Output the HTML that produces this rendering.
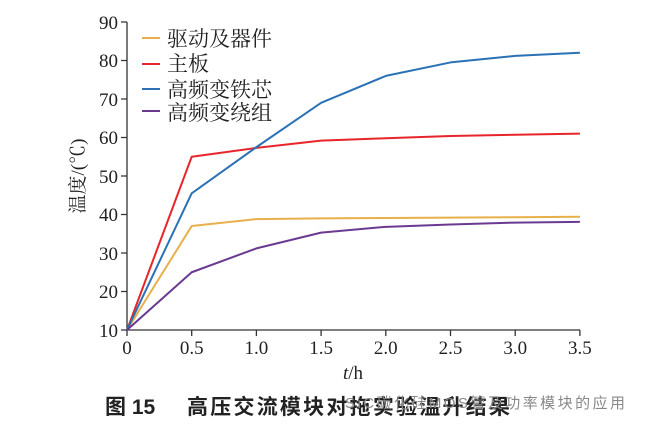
<!DOCTYPE html>
<html><head><meta charset="utf-8"><style>
body{margin:0;background:#fff;}
svg text{font-family:"Liberation Serif","Noto Serif CJK SC",serif;fill:#222;}
svg text.cap{font-family:"Liberation Sans","Noto Sans CJK SC",sans-serif;font-weight:bold;}
</style></head><body>
<svg width="646" height="430" viewBox="0 0 646 430" xmlns="http://www.w3.org/2000/svg">
<rect width="646" height="430" fill="#fff"/>
<g stroke="#333" stroke-width="1.3" fill="none">
<path d="M127 22 V330 H580"/>
<path d="M121 22H127M121 60.5H127M121 99H127M121 137.5H127M121 176H127M121 214.5H127M121 253H127M121 291.5H127M121 330H127"/>
<path d="M127 330V336M191.7 330V336M256.4 330V336M321.1 330V336M385.8 330V336M450.5 330V336M515.2 330V336M579.9 330V336"/>
</g>
<g font-size="19" text-anchor="end">
<text x="118" y="29">90</text><text x="118" y="67">80</text><text x="118" y="106">70</text><text x="118" y="144">60</text><text x="118" y="183">50</text><text x="118" y="221">40</text><text x="118" y="260">30</text><text x="118" y="298">20</text><text x="118" y="337">10</text>
</g>
<g font-size="19" text-anchor="middle">
<text x="127" y="354">0</text><text x="191.7" y="354">0.5</text><text x="256.4" y="354">1.0</text><text x="321.1" y="354">1.5</text><text x="385.8" y="354">2.0</text><text x="450.5" y="354">2.5</text><text x="515.2" y="354">3.0</text><text x="579.9" y="354">3.5</text>
<text x="353" y="379"><tspan font-style="italic">t</tspan>/h</text>
</g>
<text font-size="19" transform="translate(84 176) rotate(-90)" text-anchor="middle">温度/(℃)</text>
<g transform="translate(127 368.5) scale(129.4 -3.85)" fill="none" stroke-width="2" stroke-linejoin="round">
<polyline vector-effect="non-scaling-stroke" stroke="#e8b04a" points="0,10 0.5,37 1,38.8 1.5,39 2,39.1 2.5,39.2 3,39.3 3.5,39.4"/>
<polyline vector-effect="non-scaling-stroke" stroke="#e8252a" points="0,10 0.5,55 1,57.3 1.5,59.2 2,59.8 2.5,60.4 3,60.7 3.5,61"/>
<polyline vector-effect="non-scaling-stroke" stroke="#2a72b5" points="0,10 0.5,45.5 1,57.5 1.5,69 2,76 2.5,79.5 3,81.2 3.5,82"/>
<polyline vector-effect="non-scaling-stroke" stroke="#6a3a92" points="0,10 0.5,25 1,31.2 1.5,35.3 2,36.8 2.5,37.4 3,37.9 3.5,38.1"/>
</g>
<g stroke-width="2">
<line x1="142" y1="38" x2="160" y2="38" stroke="#e8b04a"/>
<line x1="142" y1="64" x2="160" y2="64" stroke="#e8252a"/>
<line x1="142" y1="89" x2="160" y2="89" stroke="#2a72b5"/>
<line x1="142" y1="111" x2="160" y2="111" stroke="#6a3a92"/>
</g>
<g font-size="21">
<text x="167" y="46">驱动及器件</text><text x="167" y="71">主板</text><text x="167" y="97">高频变铁芯</text><text x="167" y="120">高频变绕组</text>
</g>
<text class="cap" x="105" y="414" font-size="21">图 15</text>
<text class="cap" x="187" y="414" font-size="21" textLength="323" lengthAdjust="spacing">高压交流模块对拖实验温升结果</text>
<text x="345" y="408" font-size="15" textLength="280" lengthAdjust="spacing" style="fill:#888;font-family:'Liberation Sans','Noto Sans CJK SC',sans-serif">SiC碳化硅MOS管及功率模块的应用</text>
</svg>
</body></html>
